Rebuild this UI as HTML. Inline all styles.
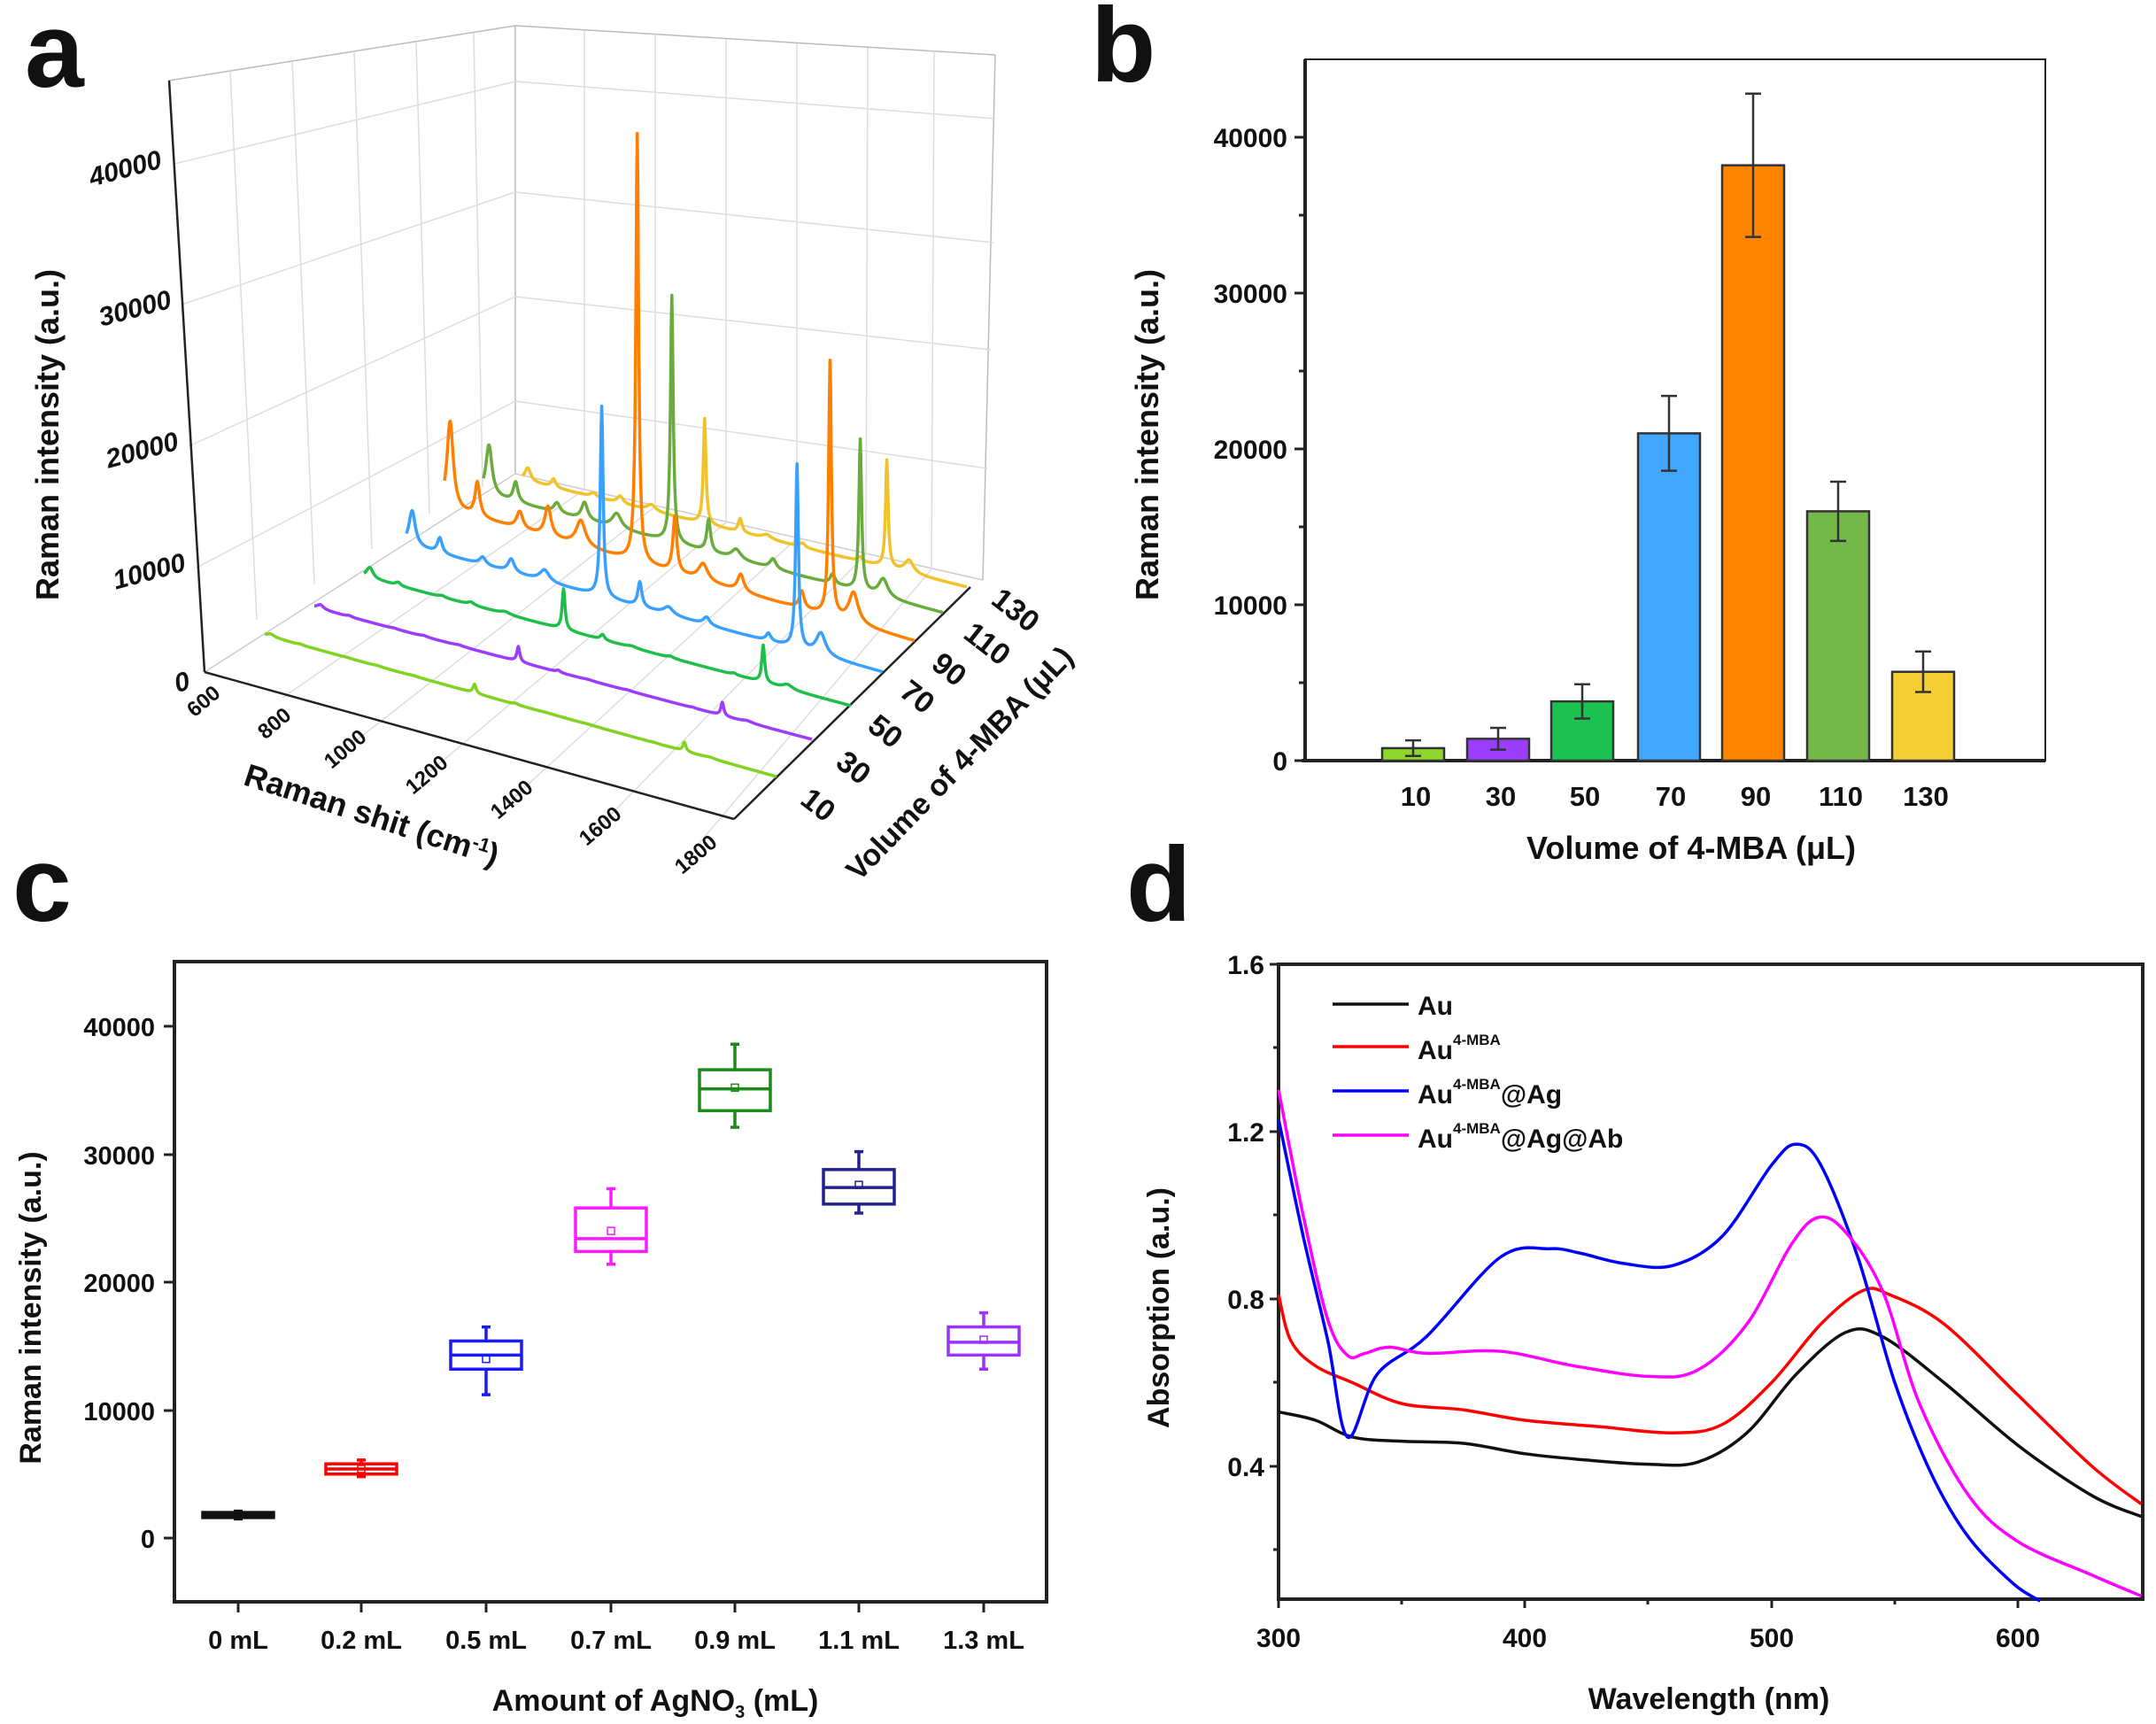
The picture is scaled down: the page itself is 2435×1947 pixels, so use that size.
<!DOCTYPE html>
<html><head><meta charset="utf-8"><style>
body{margin:0;background:#fff}
svg{display:block}
text{font-family:"Liberation Sans",Arial,sans-serif;font-weight:bold;fill:#111}
</style></head><body>
<svg id="s" width="2435" height="1947" viewBox="0 0 2435 1947" xmlns="http://www.w3.org/2000/svg">
<rect width="2435" height="1947" fill="#fff"/>
<text x="28" y="98" font-size="120">a</text>
<text x="1232" y="92" font-size="120">b</text>
<text x="14" y="1040" font-size="120">c</text>
<text x="1272" y="1040" font-size="120">d</text>

<!-- ================= Panel a ================= -->
<g id="pa" stroke="#ddd" stroke-width="1.5" fill="none">
  <path d="M191,91 L582,29 L1124,62" stroke="#bbb"/>
  <path d="M582,29 L582,535" stroke="#bbb"/>
  <path d="M1124,62 L1110,655" stroke="#bbb"/>
  <path d="M231,759 L582,535 L1110,655" stroke="#ccc"/>
  <path d="M197,185 L582,92"/><path d="M205,344 L582,217"/><path d="M213,504 L582,335"/><path d="M222,641 L582,453"/>
  <path d="M582,92 L1124,134"/><path d="M582,217 L1122,274"/><path d="M582,335 L1119,395"/><path d="M582,453 L1115,529"/>
  <path d="M260,80 L290,700"/><path d="M330,69 L355,660"/><path d="M400,58 L420,620"/><path d="M470,47 L485,580"/><path d="M535,37 L545,550"/>
  <path d="M660,34 L660,553"/><path d="M740,39 L740,572"/><path d="M820,44 L820,590"/><path d="M900,49 L900,608"/><path d="M980,54 L978,626"/><path d="M1055,58 L1052,643"/>
  <path d="M319,788 L660,553"/><path d="M395,842 L740,572"/><path d="M486,871 L820,590"/><path d="M582,899 L900,608"/><path d="M682,928 L978,626"/><path d="M789,953 L1052,643"/>
</g>
<g stroke="#222" stroke-width="2.5" fill="none">
  <path d="M191,91 L231,759"/>
  <path d="M231,759 L829,925"/>
  <path d="M829,925 L1096,663"/>
</g>
<g id="spectra" fill="none" stroke-width="3.5" stroke-linejoin="round"></g>
<g font-size="30" font-style="italic">
  <text transform="translate(144,200) rotate(-15)" text-anchor="middle">40000</text>
  <text transform="translate(155,358) rotate(-15)" text-anchor="middle">30000</text>
  <text transform="translate(163,518) rotate(-15)" text-anchor="middle">20000</text>
  <text transform="translate(171,655) rotate(-15)" text-anchor="middle">10000</text>
  <text transform="translate(208,780) rotate(-15)" text-anchor="middle">0</text>
</g>
<g font-size="24">
  <text transform="translate(235,798) rotate(-40)" text-anchor="middle">600</text>
  <text transform="translate(315,823) rotate(-40)" text-anchor="middle">800</text>
  <text transform="translate(395,852) rotate(-40)" text-anchor="middle">1000</text>
  <text transform="translate(487,881) rotate(-40)" text-anchor="middle">1200</text>
  <text transform="translate(583,909) rotate(-40)" text-anchor="middle">1400</text>
  <text transform="translate(683,939) rotate(-40)" text-anchor="middle">1600</text>
  <text transform="translate(791,971) rotate(-40)" text-anchor="middle">1800</text>
</g>
<g font-size="34">
  <text transform="translate(917,918) rotate(38)" text-anchor="middle">10</text>
  <text transform="translate(957,876) rotate(38)" text-anchor="middle">30</text>
  <text transform="translate(993,835) rotate(38)" text-anchor="middle">50</text>
  <text transform="translate(1029,796) rotate(38)" text-anchor="middle">70</text>
  <text transform="translate(1065,765) rotate(38)" text-anchor="middle">90</text>
  <text transform="translate(1108,736) rotate(38)" text-anchor="middle">110</text>
  <text transform="translate(1140,698) rotate(38)" text-anchor="middle">130</text>
</g>
<text transform="translate(416,932) rotate(18)" text-anchor="middle" font-size="36">Raman shit (cm<tspan font-size="22" dy="-12">-1</tspan><tspan dy="12">)</tspan></text>
<text transform="translate(1092,870) rotate(-46)" text-anchor="middle" font-size="34">Volume of 4-MBA (μL)</text>
<text transform="translate(66,491) rotate(-90)" text-anchor="middle" font-size="36">Raman intensity (a.u.)</text>

<!-- ================= Panel b ================= -->
<g id="pb">
  <rect x="1474" y="67" width="836" height="792" fill="none" stroke="#222" stroke-width="2"/>
  <path d="M1474,67 L1474,861 M1470,859 L2310,859" stroke="#222" stroke-width="4"/>
  <g stroke="#222" stroke-width="3">
    <path d="M1474,155 h-12 M1474,331 h-12 M1474,507 h-12 M1474,683 h-12 M1474,859 h-12"/>
    <path d="M1474,243 h-7 M1474,419 h-7 M1474,595 h-7 M1474,771 h-7"/>
  </g>
  <g font-size="30" text-anchor="end">
    <text x="1454" y="166">40000</text><text x="1454" y="342">30000</text><text x="1454" y="518">20000</text><text x="1454" y="694">10000</text><text x="1454" y="870">0</text>
  </g>
  <g id="bars" stroke="#333" stroke-width="2.5"></g>
  <g font-size="31" text-anchor="middle">
    <text x="1599" y="910">10</text><text x="1695" y="910">30</text><text x="1790" y="910">50</text><text x="1887" y="910">70</text><text x="1983" y="910">90</text><text x="2079" y="910">110</text><text x="2175" y="910">130</text>
  </g>
  <text x="1910" y="970" font-size="36" text-anchor="middle">Volume of 4-MBA (μL)</text>
  <text transform="translate(1308,491) rotate(-90)" text-anchor="middle" font-size="36">Raman intensity (a.u.)</text>
</g>

<!-- ================= Panel c ================= -->
<g id="pc">
  <rect x="197" y="1086" width="985" height="723" fill="none" stroke="#222" stroke-width="4"/>
  <g stroke="#222" stroke-width="3">
    <path d="M197,1159 h-12 M197,1304 h-12 M197,1448 h-12 M197,1593 h-12 M197,1737 h-12"/>
    <path d="M269,1809 v12 M408,1809 v12 M549,1809 v12 M690,1809 v12 M830,1809 v12 M970,1809 v12 M1111,1809 v12"/>
  </g>
  <g font-size="29" text-anchor="end">
    <text x="175" y="1170">40000</text><text x="175" y="1315">30000</text><text x="175" y="1459">20000</text><text x="175" y="1604">10000</text><text x="175" y="1748">0</text>
  </g>
  <g font-size="29" text-anchor="middle">
    <text x="269" y="1862">0 mL</text><text x="408" y="1862">0.2 mL</text><text x="549" y="1862">0.5 mL</text><text x="690" y="1862">0.7 mL</text><text x="830" y="1862">0.9 mL</text><text x="970" y="1862">1.1 mL</text><text x="1111" y="1862">1.3 mL</text>
  </g>
  <text x="740" y="1932" font-size="34" text-anchor="middle">Amount of AgNO<tspan font-size="20" dy="8">3</tspan><tspan dy="-8"> (mL)</tspan></text>
  <text transform="translate(46,1477) rotate(-90)" text-anchor="middle" font-size="34">Raman intensity (a.u.)</text>
  <g id="boxes" fill="none" stroke-width="3.5"></g>
</g>

<!-- ================= Panel d ================= -->
<g id="pd">
  <rect x="1444" y="1089" width="976" height="717" fill="none" stroke="#222" stroke-width="4"/>
  <g stroke="#222" stroke-width="3">
    <path d="M1444,1089 h-10 M1444,1278 h-10 M1444,1467 h-10 M1444,1656 h-10"/>
    <path d="M1444,1183 h-6 M1444,1372 h-6 M1444,1561 h-6 M1444,1750 h-6"/>
    <path d="M1444,1806 v10 M1722,1806 v10 M2001,1806 v10 M2279,1806 v10"/>
    <path d="M1583,1806 v6 M1861,1806 v6 M2140,1806 v6"/>
  </g>
  <g font-size="30" text-anchor="end">
    <text x="1428" y="1100">1.6</text><text x="1428" y="1289">1.2</text><text x="1428" y="1478">0.8</text><text x="1428" y="1667">0.4</text>
  </g>
  <g font-size="30" text-anchor="middle">
    <text x="1444" y="1860">300</text><text x="1722" y="1860">400</text><text x="2001" y="1860">500</text><text x="2279" y="1860">600</text>
  </g>
  <text x="1930" y="1930" font-size="34" text-anchor="middle">Wavelength (nm)</text>
  <text transform="translate(1320,1477) rotate(-90)" text-anchor="middle" font-size="34">Absorption (a.u.)</text>
  <g id="curves" fill="none" stroke-width="3.5"></g>
  <g stroke-width="3.5">
    <path d="M1505,1134 h86" stroke="#111"/><path d="M1505,1182 h86" stroke="#f00"/>
    <path d="M1505,1232 h86" stroke="#00f"/><path d="M1505,1282 h86" stroke="#f0f"/>
  </g>
  <g font-size="30">
    <text x="1601" y="1146">Au</text>
    <text x="1601" y="1196">Au<tspan font-size="17" dy="-16">4-MBA</tspan></text>
    <text x="1601" y="1246">Au<tspan font-size="17" dy="-16">4-MBA</tspan><tspan dy="16">@Ag</tspan></text>
    <text x="1601" y="1296">Au<tspan font-size="17" dy="-16">4-MBA</tspan><tspan dy="16">@Ag@Ab</tspan></text>
  </g>
</g>
</svg>
<script>
const NS="http://www.w3.org/2000/svg";
function el(p,tag,a){const e=document.createElementNS(NS,tag);for(const k in a)e.setAttribute(k,a[k]);p.appendChild(e);return e;}
const specs=[
 ["#f2c22a",590,542,1092,663,119,121,15],
 ["#6aac3c",546,558,1065,692,279,171,57],
 ["#ff7f00",502,574,1033,724,484,288,100],
 ["#3aa0ff",459,615,997,759,215,208,40],
 ["#1dbf4a",411,651,961,797,46,42,12],
 ["#9b3dff",355,686,917,835,17,15,5],
 ["#7fd321",299,717,877,877,10,10,3]];
const sg=document.getElementById("spectra");
specs.forEach(s=>{
 const [c,sx,sy,ex,ey,H1,H2,Hs]=s;
 const pk=[[0.012,Hs,0.008],[0.07,0.08*H1,0.006],[0.16,0.04*H1,0.008],[0.22,0.07*H1,0.008],[0.29,0.06*H1,0.012],[0.41,H1,0.0035],[0.49,0.13*H1,0.005],[0.55,0.04*H1,0.012],[0.63,0.04*H1,0.008],[0.76,0.04*H1,0.006],[0.82,H2,0.0035],[0.87,0.12*H2,0.012]];
 let d="";
 for(let i=0;i<=800;i++){const t=i/800;let x=sx+t*(ex-sx),y=sy+t*(ey-sy);
  for(const p of pk){const u=(t-p[0])/p[2];y-=p[1]/(1+u*u);}
  d+=(i?"L":"M")+x.toFixed(1)+","+y.toFixed(1);}
 el(sg,"path",{d:d,stroke:c});
});
const bg=document.getElementById("bars");
const yb=v=>859-v*0.0176;
const bars=[[1596,800,500,"#8fd62c"],[1692,1400,700,"#9a3dff"],[1787,3800,1100,"#1cc353"],[1885,21000,2400,"#42a5ff"],[1980,38200,4600,"#ff8400"],[2076,16000,1900,"#74b84a"],[2172,5700,1300,"#f5cf34"]];
bars.forEach(b=>{const [x,v,e,c]=b;
 el(bg,"rect",{x:x-35,y:yb(v),width:70,height:859-yb(v),fill:c});
 el(bg,"path",{d:`M${x},${yb(v+e)}V${yb(v-e)}M${x-9},${yb(v+e)}h18M${x-9},${yb(v-e)}h18`,fill:"none"});});
const xg=document.getElementById("boxes");
const yc=v=>1737-v*0.01445;
const bx=[[269,1600,1800,2000,1500,2100,1800,"#111"],[408,5000,5400,5800,4800,6100,5400,"#f00"],[549,13200,14300,15400,11200,16500,14000,"#1a1aff"],[690,22400,23400,25800,21400,27300,24000,"#ff1aff"],[830,33400,35100,36600,32100,38600,35200,"#1a8a1a"],[970,26100,27400,28800,25400,30200,27600,"#22228f"],[1111,14300,15300,16500,13200,17600,15500,"#9933ff"]];
bx.forEach(b=>{const [x,q1,m,q3,lo,hi,mn,c]=b;const w=40;
 el(xg,"rect",{x:x-w,y:yc(q3),width:2*w,height:Math.max(yc(q1)-yc(q3),3),stroke:c});
 el(xg,"path",{d:`M${x-w},${yc(m)}h${2*w}M${x},${yc(q3)}V${yc(hi)}M${x},${yc(q1)}V${yc(lo)}M${x-5},${yc(hi)}h10M${x-5},${yc(lo)}h10`,stroke:c});
 el(xg,"rect",{x:x-4,y:yc(mn)-4,width:8,height:8,stroke:c,"stroke-width":1.5});});
const cg=document.getElementById("curves");
const X=w=>1444+(w-300)*2.784, Y=a=>1656-(a-0.4)*472.5;
function smooth(pts){let P=pts.map(p=>[X(p[0]),Y(p[1])]);let d="M"+P[0];
 for(let i=0;i<P.length-1;i++){const p0=P[i-1]||P[i],p1=P[i],p2=P[i+1],p3=P[i+2]||p2;
  const c1=[p1[0]+(p2[0]-p0[0])/6,p1[1]+(p2[1]-p0[1])/6],c2=[p2[0]-(p3[0]-p1[0])/6,p2[1]-(p3[1]-p1[1])/6];
  d+=`C${c1} ${c2} ${p2}`;}return d;}
const curves=[
 ["#111",[[300,0.53],[315,0.51],[330,0.47],[350,0.46],[375,0.455],[400,0.43],[425,0.415],[450,0.405],[470,0.41],[490,0.48],[510,0.62],[530,0.72],[545,0.71],[570,0.6],[600,0.45],[630,0.33],[650,0.28]]],
 ["#f00",[[300,0.81],[305,0.70],[315,0.64],[330,0.60],[350,0.55],[375,0.535],[400,0.51],[430,0.495],[460,0.48],[480,0.5],[500,0.6],[520,0.74],[537,0.82],[548,0.81],[570,0.74],[600,0.57],[630,0.4],[650,0.31]]],
 ["#00f",[[300,1.23],[310,0.95],[320,0.7],[328,0.47],[340,0.62],[360,0.71],[390,0.9],[410,0.92],[422,0.91],[440,0.885],[460,0.88],[480,0.95],[500,1.12],[510,1.17],[520,1.12],[535,0.9],[550,0.6],[565,0.38],[580,0.23],[598,0.12],[609,0.078]]],
 ["#f0f",[[300,1.3],[310,1.0],[320,0.75],[328,0.665],[335,0.67],[345,0.685],[360,0.67],[390,0.675],[420,0.64],[450,0.615],[470,0.63],[490,0.74],[508,0.93],[519,0.995],[530,0.96],[545,0.82],[560,0.55],[580,0.33],[600,0.22],[630,0.14],[650,0.09]]]];
curves.forEach(c=>el(cg,"path",{d:smooth(c[1]),stroke:c[0]}));
</script>
</body></html>
